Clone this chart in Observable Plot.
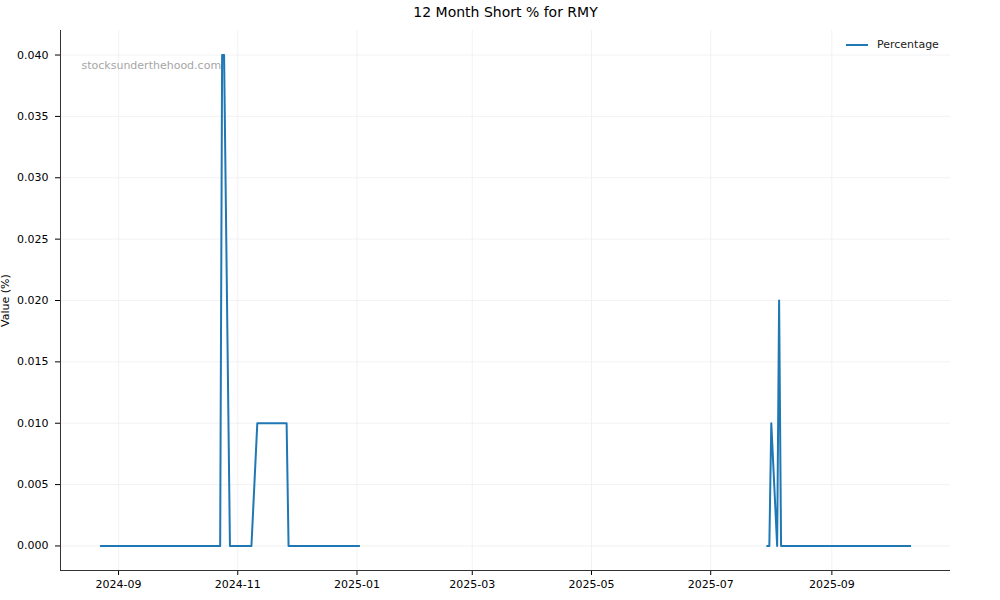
<!DOCTYPE html>
<html>
<head>
<meta charset="utf-8">
<script src="https://cdn.jsdelivr.net/npm/d3@7"></script>
<script src="https://cdn.jsdelivr.net/npm/@observablehq/plot@0.6"></script>
<style>
  html, body { margin: 0; padding: 0; background: #fff; }
  #wrap { position: relative; width: 1000px; height: 600px; font-family: "DejaVu Sans", sans-serif; }
  #legend { position: absolute; left: 846px; top: 38px; display: flex; align-items: center; font-size: 11px; color: #222; }
  #legend .sw { width: 22px; height: 0; border-top: 2px solid #1f77b4; margin-right: 9px; }
</style>
</head>
<body>
<div id="wrap"></div>
<script>
const titleText = "12 Month Short % for RMY";
const yLabelText = "Value (%)";
const watermarkText = "stocksunderthehood.com";
const seriesName = "Percentage";

const dates = [
  "2024-08-23", "2024-10-23", "2024-10-24", "2024-10-25", "2024-10-28",
  "2024-11-08", "2024-11-11", "2024-11-26", "2024-11-27", "2025-01-02",
  "2025-01-03",
  "2025-07-30", "2025-07-31", "2025-08-01", "2025-08-04", "2025-08-05",
  "2025-08-06", "2025-10-11"
];
const values = [
  0, 0, 0.04, 0.04, 0,
  0, 0.01, 0.01, 0, 0,
  null,
  0, 0, 0.01, 0, 0.02,
  0, 0
];
const yTicks = [0, 0.005, 0.01, 0.015, 0.02, 0.025, 0.03, 0.035, 0.04];

const parse = d3.utcParse("%Y-%m-%d");
const data = dates.map((d, i) => ({date: parse(d), value: values[i]}));

const xExt = d3.extent(data, d => d.date);
const xPad = (xExt[1] - xExt[0]) * 0.05;
const xDomain = [new Date(+xExt[0] - xPad), new Date(+xExt[1] + xPad)];
const valid = data.filter(d => d.value != null);
const yExt = d3.extent(valid, d => d.value);
const yPad = (yExt[1] - yExt[0]) * 0.05;
const yDomain = [yExt[0] - yPad, yExt[1] + yPad];
const xTicks = d3.utcMonth.every(2).range(xDomain[0], xDomain[1]);

const chart = Plot.plot({
  width: 1000,
  height: 600,
  marginLeft: 60,
  marginRight: 50,
  marginTop: 30,
  marginBottom: 30,
  style: {fontFamily: "DejaVu Sans, sans-serif", fontSize: "11px", background: "#fff", color: "#000"},
  x: {type: "utc", domain: xDomain},
  y: {domain: yDomain},
  marks: [
    Plot.gridX(xTicks, {stroke: "#efefef", strokeOpacity: 1, strokeWidth: 0.8}),
    Plot.gridY(yTicks, {stroke: "#efefef", strokeOpacity: 1, strokeWidth: 0.8}),
    Plot.axisX(xTicks, {tickSize: 5, tickPadding: 5, tickFormat: d3.utcFormat("%Y-%m"), label: null, fontSize: 11}),
    Plot.axisY(yTicks, {tickSize: 5, tickPadding: 7, tickFormat: d3.format(".3f"), label: null, fontSize: 11}),
    Plot.ruleX([xDomain[0]], {stroke: "#333", strokeWidth: 1}),
    Plot.ruleY([yDomain[0]], {stroke: "#333", strokeWidth: 1}),
    Plot.line(data, {x: "date", y: "value", stroke: "#1f77b4", strokeWidth: 2, strokeLinejoin: "round", strokeLinecap: "square"}),
    Plot.text([watermarkText], {frameAnchor: "top-left", dx: 21, dy: 35, textAnchor: "start", lineAnchor: "middle", fill: "#a6a6a6", fontSize: 11}),
    Plot.text([titleText], {frameAnchor: "top", dy: -18, lineAnchor: "middle", fontSize: 14, fill: "#000"}),
    Plot.text([yLabelText], {frameAnchor: "left", dx: -55, rotate: -90, textAnchor: "middle", lineAnchor: "middle", fontSize: 11, fill: "#000"})
  ]
});

const wrap = document.getElementById("wrap");
wrap.appendChild(chart);
const legend = document.createElement("div");
legend.id = "legend";
legend.innerHTML = `<span class="sw"></span><span>${seriesName}</span>`;
wrap.appendChild(legend);
</script>
</body>
</html>
